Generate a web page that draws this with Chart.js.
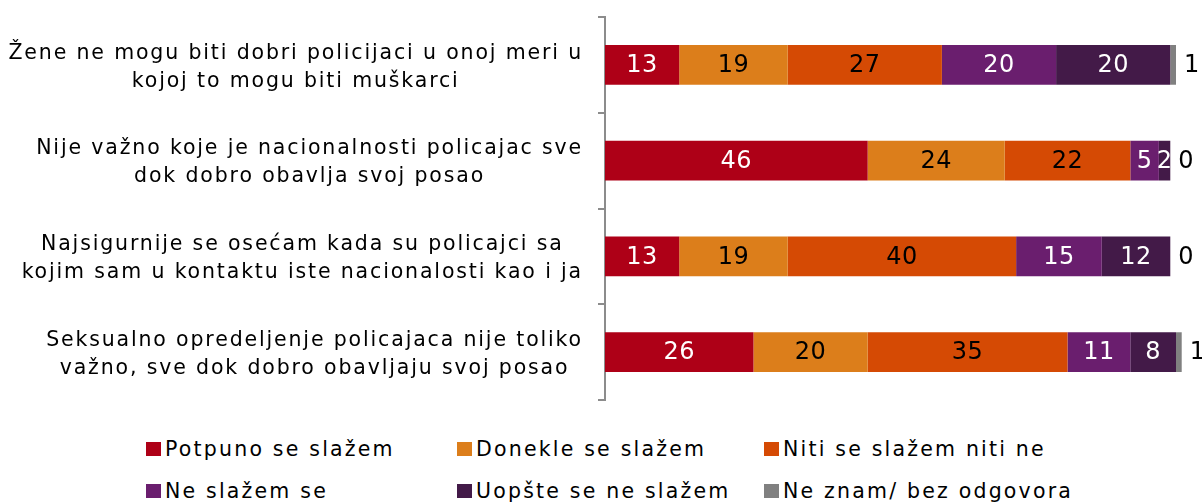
<!DOCTYPE html>
<html lang="sr">
<head>
    <meta charset="UTF-8">
    <title>Stavovi o policiji</title>
    <script src="https://cdn.jsdelivr.net/npm/chart.js"></script>
    <style>
        body {
            margin: 0;
            padding: 0;
            background: #fff;
            font-family: "DejaVu Sans", sans-serif;
        }

        .wrap {
            position: relative;
            width: 1202px;
            height: 502px;
        }

        .chart-box {
            position: absolute;
            left: 0;
            top: 0;
            width: 1202px;
            height: 410px;
        }

        #legend {
            position: absolute;
            left: 146px;
            top: 437px;
            display: grid;
            grid-template-columns: 311px 307px 300px;
            row-gap: 18px;
            font-size: 20.5px;
            letter-spacing: 2.2px;
            color: #000;
        }

        .leg-item {
            display: flex;
            align-items: center;
            height: 24px;
            white-space: nowrap;
        }

        .leg-box {
            flex-shrink: 0;
            width: 15px;
            height: 14px;
            margin-right: 4px;
        }
    </style>
</head>
<body>
    <div class="wrap">
        <div class="chart-box">
            <canvas id="chart"></canvas>
        </div>
        <div id="legend"></div>
    </div>

    <script>
        // tvrdnje (kategorije)
        const statements = [
            ['Žene ne mogu biti dobri policijaci u onoj meri u', 'kojoj to mogu biti muškarci'],
            ['Nije važno koje je nacionalnosti policajac sve', 'dok dobro obavlja svoj posao'],
            ['Najsigurnije se osećam kada su policajci sa', 'kojim sam u kontaktu iste nacionalosti kao i ja'],
            ['Seksualno opredeljenje policajaca nije toliko', 'važno, sve dok dobro obavljaju svoj posao']
        ];

        const seriesNames = [
            'Potpuno se slažem',
            'Donekle se slažem',
            'Niti se slažem niti ne',
            'Ne slažem se',
            'Uopšte se ne slažem',
            'Ne znam/ bez odgovora'
        ];

        const potpuno = [13, 46, 13, 26];
        const donekle = [19, 24, 19, 20];
        const niti = [27, 22, 40, 35];
        const neSlazem = [20, 5, 15, 11];
        const uopste = [20, 2, 12, 8];
        const neZnam = [1, 0, 0, 1];

        const colors = ['#AE0017', '#DC7E1B', '#D54A04', '#6A1E6E', '#431A48', '#808080'];
        const labelColors = ['#fff', '#000', '#000', '#fff', '#fff', '#000'];

        const values = [potpuno, donekle, niti, neSlazem, uopste, neZnam];

        const datasets = values.map((d, i) => ({
            label: seriesNames[i],
            data: d,
            backgroundColor: colors[i],
            borderWidth: 0,
            barPercentage: 0.83,
            categoryPercentage: 0.5,
            clip: false
        }));

        const LABEL_FONT = '20.5px "DejaVu Sans"';
        const LABEL_LINE = 28;

        // nazivi kategorija: blok desno poravnat uz osu, redovi centrirani u bloku
        const catLabels = {
            id: 'catLabels',
            afterDraw(chart) {
                const ctx = chart.ctx;
                const y = chart.scales.y;
                const rightEdge = y.right - 7 - 15;
                ctx.save();
                ctx.letterSpacing = '1.85px';
                ctx.font = LABEL_FONT;
                ctx.fillStyle = '#000';
                ctx.textAlign = 'center';
                ctx.textBaseline = 'middle';
                chart.data.labels.forEach((lines, i) => {
                    const blockW = Math.max(...lines.map(l => ctx.measureText(l).width));
                    const cx = rightEdge - blockW / 2;
                    const cy = y.getPixelForTick(i) + 2.5;
                    lines.forEach((l, k) => {
                        ctx.fillText(l, cx, cy + (k - (lines.length - 1) / 2) * LABEL_LINE);
                    });
                });
                ctx.restore();
            }
        };

        // brojevi u trakama
        const barLabels = {
            id: 'barLabels',
            afterDatasetsDraw(chart) {
                const ctx = chart.ctx;
                const last = chart.data.datasets.length - 1;
                ctx.save();
                ctx.letterSpacing = '0.5px';
                ctx.font = '24px "DejaVu Sans"';
                ctx.textBaseline = 'middle';
                chart.data.datasets.forEach((ds, i) => {
                    const meta = chart.getDatasetMeta(i);
                    meta.data.forEach((bar, j) => {
                        const v = ds.data[j];
                        ctx.fillStyle = labelColors[i];
                        if (i === last) {
                            ctx.textAlign = 'left';
                            ctx.fillText(v, bar.x + 8, bar.y + 1);
                        } else {
                            ctx.textAlign = 'center';
                            ctx.fillText(v, (bar.x + bar.base) / 2, bar.y + 1);
                        }
                    });
                });
                ctx.restore();
            }
        };

        const chart = new Chart(document.getElementById('chart'), {
            type: 'bar',
            data: {
                labels: statements,
                datasets: datasets
            },
            options: {
                indexAxis: 'y',
                responsive: true,
                maintainAspectRatio: false,
                animation: false,
                layout: {
                    padding: { left: 10, right: 26, top: 17, bottom: 10 }
                },
                plugins: {
                    legend: { display: false },
                    tooltip: { enabled: false }
                },
                scales: {
                    x: {
                        stacked: true,
                        min: 0,
                        max: 100,
                        display: false
                    },
                    y: {
                        stacked: true,
                        afterFit: (scale) => {
                            scale.width = 595;
                            scale.paddingTop = 0;
                            scale.paddingBottom = 0;
                        },
                        border: { color: '#8c8c8c', width: 2 },
                        grid: {
                            offset: true,
                            drawOnChartArea: false,
                            tickLength: 7,
                            color: '#8c8c8c',
                            lineWidth: 2
                        },
                        ticks: {
                            color: 'rgba(0,0,0,0)',
                            font: { family: 'DejaVu Sans', size: 20.5 }
                        }
                    }
                }
            },
            plugins: [barLabels, catLabels]
        });

        // legenda
        const legend = document.getElementById('legend');
        seriesNames.forEach((name, i) => {
            const item = document.createElement('div');
            item.className = 'leg-item';
            item.innerHTML = `<span class="leg-box" style="background:${colors[i]}"></span><span>${name}</span>`;
            legend.appendChild(item);
        });
    </script>
</body>
</html>
